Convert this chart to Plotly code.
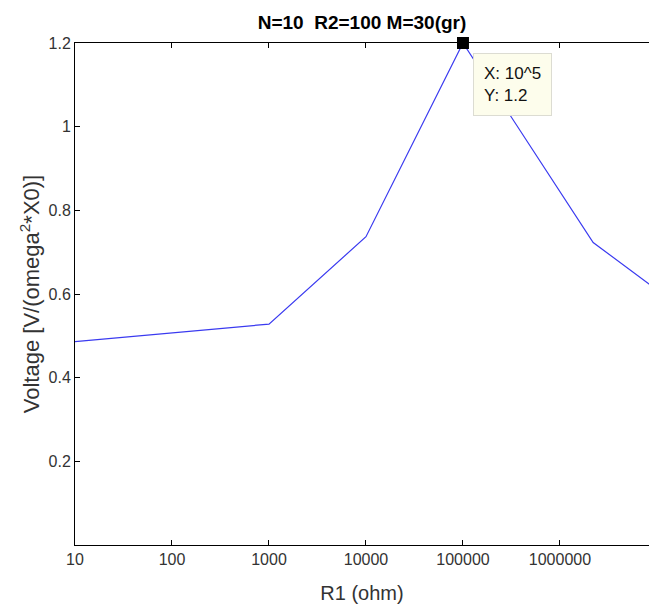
import plotly.graph_objects as go

# Data
r1_ohm = [10, 1000, 10000, 100000, 2.2e6, 1e7]
voltage = [0.486, 0.528, 0.737, 1.2, 0.723, 0.61]

x_tick_vals = [10, 100, 1000, 10000, 100000, 1000000]
x_tick_text = ["10", "100", "1000", "10000", "100000", "1000000"]
y_tick_vals = [0.2, 0.4, 0.6, 0.8, 1.0, 1.2]
y_tick_text = ["0.2", "0.4", "0.6", "0.8", "1", "1.2"]

tip_x = [100000]
tip_y = [1.2]

FONT = "Liberation Sans, Arial"

fig = go.Figure()
fig.add_trace(go.Scatter(
    x=r1_ohm, y=voltage, mode="lines",
    line=dict(color="#3a3af0", width=1.2),
    showlegend=False, hoverinfo="skip",
))
fig.add_trace(go.Scatter(
    x=tip_x, y=tip_y, mode="markers",
    marker=dict(symbol="square", size=12, color="black"),
    showlegend=False, cliponaxis=False,
))

fig.add_annotation(
    x=5, y=1.2, xref="x", yref="y",
    text="X: 10^5<br>Y: 1.2",
    showarrow=False, xanchor="left", yanchor="top", align="left",
    xshift=10, yshift=-10,
    bgcolor="#fdfdec", bordercolor="#dcdcd2", borderwidth=1, borderpad=10,
    font=dict(family=FONT, size=17, color="#111"),
)

fig.update_layout(
    width=649, height=610,
    margin=dict(l=75, r=0, t=43, b=65),
    paper_bgcolor="white", plot_bgcolor="white",
    title=dict(
        text="<b>N=10  R2=100 M=30(gr)</b>",
        xref="paper", x=0.5, xanchor="center",
        yref="container", y=0.963, yanchor="middle",
        font=dict(family=FONT, size=19, color="black"),
    ),
    xaxis=dict(
        type="log", range=[1, 6.918],
        tickvals=x_tick_vals, ticktext=x_tick_text,
        ticks="inside", ticklen=5, tickcolor="black",
        showline=True, linecolor="black", linewidth=1, mirror="ticks",
        showgrid=False, zeroline=False,
        tickfont=dict(family=FONT, size=16, color="#333"),
        title=dict(text="R1 (ohm)", standoff=18,
                   font=dict(family=FONT, size=20, color="#333")),
    ),
    yaxis=dict(
        range=[0, 1.2],
        tickvals=y_tick_vals, ticktext=y_tick_text,
        ticks="inside", ticklen=5, tickcolor="black",
        showline=True, linecolor="black", linewidth=1, mirror=False,
        showgrid=False, zeroline=False,
        tickfont=dict(family=FONT, size=16, color="#333"),
        title=dict(text="Voltage [V/(omega<sup>2</sup>*X0)]", standoff=2,
                   font=dict(family=FONT, size=22, color="#333")),
    ),
)

fig.write_html("out.html")
